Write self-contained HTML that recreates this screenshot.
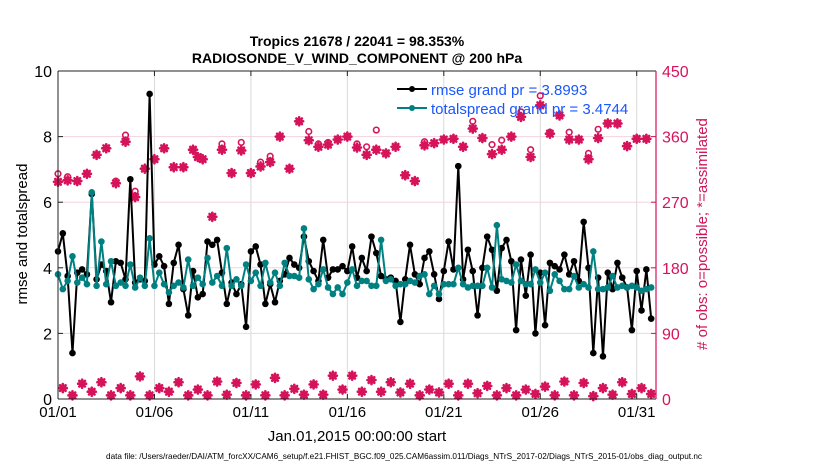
<!DOCTYPE html>
<html><head><meta charset="utf-8"><style>
body{margin:0;background:#fff;}
svg{display:block;font-family:"Liberation Sans",Arial,sans-serif;}
</style></head><body>
<svg id="chart" width="830" height="470" viewBox="0 0 830 470" xmlns="http://www.w3.org/2000/svg">
<rect width="830" height="470" fill="#fff"/>
<g id="grid"></g>
<g id="obs"></g>
<g id="lines"></g>
<g id="axes"></g>
<text x="357" y="46" text-anchor="middle" font-size="14" font-weight="bold">Tropics 21678 / 22041 = 98.353%</text>
<text x="357" y="63" text-anchor="middle" font-size="14" font-weight="bold">RADIOSONDE_V_WIND_COMPONENT @ 200 hPa</text>
<text transform="translate(27,234) rotate(-90)" text-anchor="middle" font-size="15">rmse and totalspread</text>
<text transform="translate(707,234) rotate(-90)" text-anchor="middle" font-size="15" fill="#d0145a"># of obs: o=possible; *=assimilated</text>
<text x="357" y="441" text-anchor="middle" font-size="15">Jan.01,2015 00:00:00 start</text>
<text x="404" y="459" text-anchor="middle" font-size="8.2" textLength="596" lengthAdjust="spacingAndGlyphs">data file: /Users/raeder/DAI/ATM_forcXX/CAM6_setup/f.e21.FHIST_BGC.f09_025.CAM6assim.011/Diags_NTrS_2017-02/Diags_NTrS_2015-01/obs_diag_output.nc</text>
<g>
<line x1="397" y1="89" x2="427" y2="89" stroke="#000" stroke-width="2"/><circle cx="412" cy="89" r="3" fill="#000"/>
<text x="431" y="95" font-size="15" fill="#1a56ff">rmse grand pr = 3.8993</text>
<line x1="397" y1="108" x2="427" y2="108" stroke="#008080" stroke-width="2"/><circle cx="412" cy="108" r="3" fill="#008080"/>
<text x="431" y="114" font-size="15" fill="#1a56ff">totalspread grand pr = 3.4744</text>
</g>
</svg>
<script>
const xTickLabels=["01/01","01/06","01/11","01/16","01/21","01/26","01/31"];
const xTickDays=[0,5,10,15,20,25,30];
const yTicks=[0,2,4,6,8,10];
const y2Ticks=[0,90,180,270,360,450];
const rmse=[4.5,5.05,3.75,1.4,3.85,3.95,3.8,6.25,3.65,4.1,3.9,2.95,4.2,4.15,3.65,6.7,3.55,3.65,3.6,9.3,4.1,4.35,4.05,2.9,4.15,4.7,3.35,2.55,3.9,3.1,
3.2,4.8,4.7,4.85,3.85,2.9,3.55,3.2,3.5,2.2,4.5,4.65,4.1,2.9,3.5,2.95,3.6,3.8,4.3,4.1,4.0,4.95,4.2,3.9,3.6,4.85,3.7,3.95,3.95,4.05,3.9,
4.65,3.7,4.3,3.9,4.95,4.45,3.75,3.65,3.7,3.6,2.35,3.65,4.7,3.8,3.5,4.3,4.5,3.8,3.05,3.9,4.8,3.95,7.1,3.65,4.55,3.9,2.55,4.0,4.95,4.55,3.3,
4.6,4.85,4.2,2.1,4.25,3.15,4.4,2.0,3.85,2.25,4.15,4.05,3.95,4.4,3.8,4.2,3.6,5.4,4.0,1.4,3.7,1.3,3.85,3.35,4.15,3.7,3.4,2.1,3.9,2.7,3.95,2.45];
const spread=[3.8,3.35,3.6,4.35,3.55,3.7,3.5,6.3,3.45,4.8,3.5,4.2,3.45,3.55,3.45,4.1,3.4,3.7,3.45,4.9,3.45,3.85,3.5,3.25,3.45,3.55,3.4,4.25,3.45,3.7,
3.5,4.3,3.55,3.75,3.45,4.6,3.45,3.65,3.45,4.1,3.6,3.85,3.45,4.15,3.55,3.85,3.45,4.15,3.75,3.75,3.7,5.2,3.65,3.35,3.5,3.95,3.4,3.2,3.4,3.2,3.55,
3.95,3.45,3.6,3.6,3.45,3.45,4.85,3.6,3.65,3.45,3.5,3.5,3.6,3.55,3.75,3.8,3.2,3.45,3.2,3.5,3.5,3.5,4.0,3.5,3.4,3.45,3.45,3.45,4.0,3.4,5.3,
3.65,3.6,3.55,4.1,3.6,3.5,3.5,3.95,3.55,3.85,3.3,3.8,3.6,3.35,3.35,3.75,3.4,3.5,3.4,4.5,3.35,3.35,3.4,3.75,3.4,3.45,3.4,3.45,3.4,3.3,3.35,3.4];
const topIdx=[0,2,4,6,8,10,12,14,16,18,20,22,24,26,28,29,30,32,34,36,38,40,42,44,46,48,50,52,54,56,58,60,62,64,66,68,70,72,74,76,78,80,82,84,86,88,90,92,94,96,98,100,102,104,106,108,110,112,114,116,118,120,122];
const topAssim=[298,300,299,309,335,344,296,353,277,316,329,344,318,318,342,332,329,250,342,310,341,310,319,325,360,316,381,355,346,349,356,360,345,335,342,337,346,307,299,348,351,356,357,346,371,358,336,342,360,387,332,403,364,389,356,356,329,358,378,378,347,357,357];
const topPoss=[309,305,299,309,335,344,299,362,285,316,329,344,318,318,342,332,329,250,350,310,352,310,325,333,360,316,381,367,350,352,356,360,350,346,369,337,346,307,299,353,351,356,357,346,381,358,349,355,360,394,342,416,366,389,366,356,337,370,378,378,347,357,357];
const botIdx=[1,3,5,7,9,11,13,15,17,19,21,23,25,27,29,31,33,35,37,39,41,43,45,47,49,51,53,55,57,59,61,63,65,67,69,71,73,75,77,79,81,83,85,87,89,91,93,95,97,99,101,103,105,107,109,111,113,115,117,119,121,123];
const botVals=[15,5,21,10,23,5,15,5,31,5,15,10,23,5,13,5,24,6,22,5,20,5,29,5,14,6,20,6,32,13,32,10,26,10,23,9,21,5,13,9,21,5,21,8,18,5,15,5,13,7,17,5,24,5,22,4,15,6,23,7,15,7];

const NS="http://www.w3.org/2000/svg";
const X0=58,X1=656,Y0=399,Y1=71,DAYS=31;
const xScale=i=>X0+(i/4)*(X1-X0)/DAYS;
const xDay=d=>X0+d*(X1-X0)/DAYS;
const yL=v=>Y0-v/10*(Y0-Y1);
const yR=v=>Y0-v/450*(Y0-Y1);
const MAG="#d6135a";
function mk(tag,attrs,parent){const e=document.createElementNS(NS,tag);for(const k in attrs)e.setAttribute(k,attrs[k]);parent.appendChild(e);return e;}
const grid=document.getElementById('grid'),axes=document.getElementById('axes'),obs=document.getElementById('obs'),lines=document.getElementById('lines');
xTickDays.forEach((d,i)=>{
  const gl=mk('line',{x1:xDay(d),x2:xDay(d),y1:Y1,y2:Y0,stroke:'#d9d9d9','stroke-width':1},grid);
  
  
  const t=mk('text',{x:xDay(d),y:Y0+18,'text-anchor':'middle','font-size':15},axes);t.textContent=xTickLabels[i];
  
  
  mk('line',{x1:xDay(d),x2:xDay(d),y1:Y0,y2:Y0-5,stroke:'#222'},axes);
  mk('line',{x1:xDay(d),x2:xDay(d),y1:Y1,y2:Y1+5,stroke:'#222'},axes);
});
y2Ticks.forEach(v=>{
  if(v>0&&v<450){const gl=mk('line',{x1:X0,x2:X1,y1:yR(v),y2:yR(v),stroke:'#f2d3de','stroke-width':1},grid);
  
  }
  const t=mk('text',{x:X1+6,y:yR(v)+6,'font-size':16,fill:MAG},axes);t.textContent=v;
  
  
  mk('line',{x1:X1,x2:X1-5,y1:yR(v),y2:yR(v),stroke:MAG},axes);
});
yTicks.forEach(v=>{
  const t=mk('text',{x:X0-6,y:yL(v)+6,'text-anchor':'end','font-size':16},axes);t.textContent=v;
  
  
  mk('line',{x1:X0,x2:X0+5,y1:yL(v),y2:yL(v),stroke:'#222'},axes);
});
mk('line',{x1:X0,x2:X1,y1:Y0,y2:Y0,stroke:'#222','stroke-width':1},axes);
mk('line',{x1:X0,x2:X1,y1:Y1,y2:Y1,stroke:'#222','stroke-width':1},axes);
mk('line',{x1:X0,x2:X0,y1:Y1,y2:Y0,stroke:'#222','stroke-width':1},axes);
mk('line',{x1:X1,x2:X1,y1:Y1,y2:Y0,stroke:MAG,'stroke-width':1.2},axes);
function star(cx,cy,p,name){
  const g=mk('g',{stroke:MAG,'stroke-width':2.6,'stroke-linecap':'round'},p);
  
  
  const r=4;
  mk('line',{x1:cx-r,y1:cy,x2:cx+r,y2:cy},g);mk('line',{x1:cx,y1:cy-r,x2:cx,y2:cy+r},g);
  mk('line',{x1:cx-r*.7,y1:cy-r*.7,x2:cx+r*.7,y2:cy+r*.7},g);mk('line',{x1:cx-r*.7,y1:cy+r*.7,x2:cx+r*.7,y2:cy-r*.7},g);
}
topIdx.forEach((i,k)=>{
  const c=mk('circle',{cx:xScale(i),cy:yR(topPoss[k]),r:2.8,fill:'none',stroke:MAG,'stroke-width':1.6},obs);
  
  
  star(xScale(i),yR(topAssim[k]),obs,'obs-assimilated');
});
botIdx.forEach((i,k)=>{
  const c=mk('circle',{cx:xScale(i),cy:yR(botVals[k]),r:2.8,fill:'none',stroke:MAG,'stroke-width':1.6},obs);
  
  
  star(xScale(i),yR(botVals[k]),obs,'obs-assimilated');
});
function series(vals,color,name){
  const pts=vals.map((v,i)=>xScale(i).toFixed(1)+','+yL(v).toFixed(1)).join(' ');
  const pl=mk('polyline',{points:pts,fill:'none',stroke:color,'stroke-width':2,'stroke-linejoin':'round'},lines);
  
  
  vals.forEach((v,i)=>{const c=mk('circle',{cx:xScale(i),cy:yL(v),r:3.3,fill:color},lines);
    
    });
}
series(rmse,'#000','rmse');
series(spread,'#008080','totalspread');
</script>
</body></html>
